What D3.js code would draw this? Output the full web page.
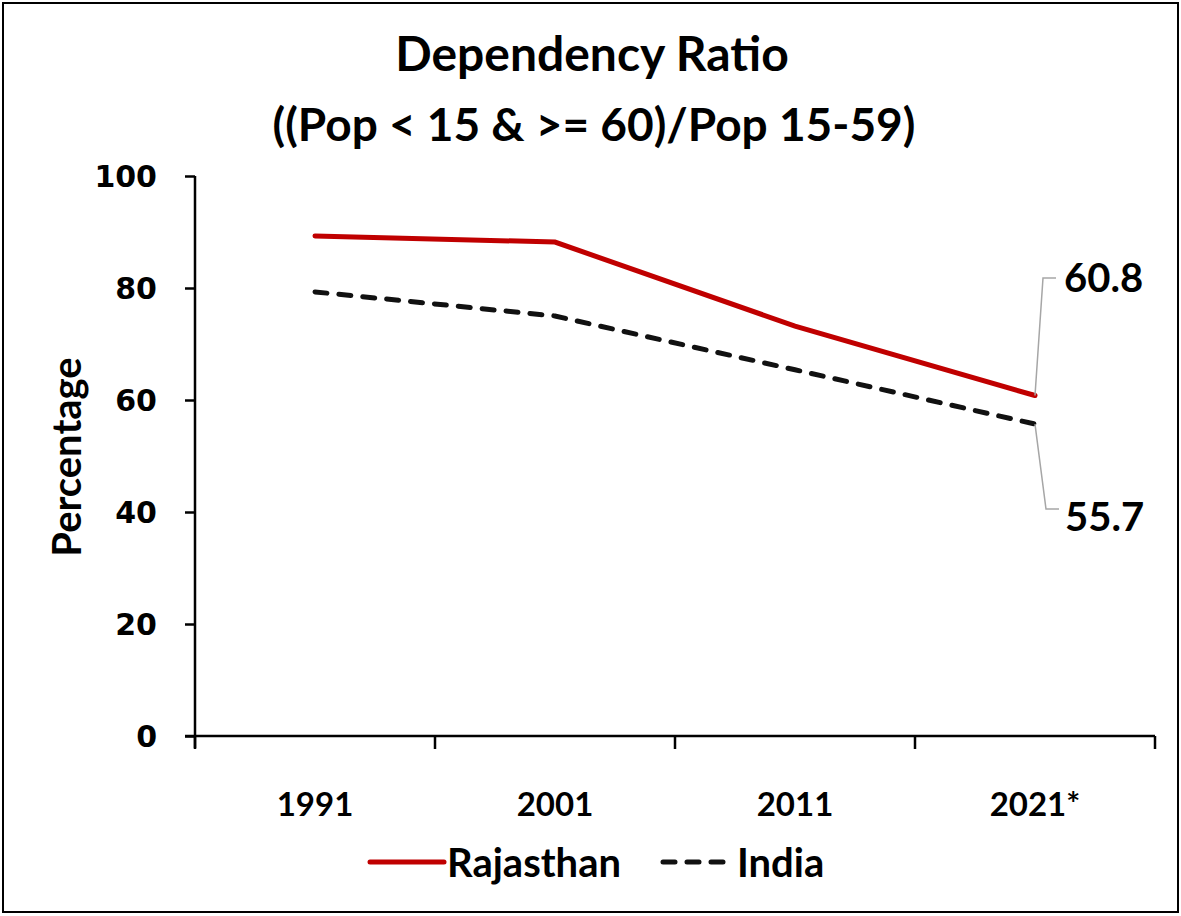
<!DOCTYPE html>
<html>
<head>
<meta charset="utf-8">
<script src="https://cdn.jsdelivr.net/npm/d3@7"></script>
<style>
  body { margin: 0; background: #fff; }
  text { font-family: Lato, "Open Sans", sans-serif; font-weight: bold; fill: #000; }
</style>
</head>
<body>
<div id="chart"></div>
<script>
const years = ["1991", "2001", "2011", "2021*"];
const rajasthan = [89.3, 88.2, 73.2, 60.8];
const india = [79.3, 75.0, 65.4, 55.7];
const yTicks = [0, 20, 40, 60, 80, 100];

const width = 1181,
  height = 916,
  plotLeft = 195,
  plotRight = 1155,
  plotTop = 176,
  plotBottom = 736;

const svg = d3
  .select("#chart")
  .append("svg")
  .attr("width", width)
  .attr("height", height);

// outer border
svg
  .append("rect")
  .attr("x", 3)
  .attr("y", 3)
  .attr("width", width - 6)
  .attr("height", height - 7)
  .attr("fill", "none")
  .attr("stroke", "#000")
  .attr("stroke-width", 2);

svg
  .append("text")
  .attr("x", 592)
  .attr("y", 71)
  .attr("text-anchor", "middle")
  .style("font-size", "48px")
  .text("Dependency Ratio");

svg
  .append("text")
  .attr("x", 594)
  .attr("y", 141)
  .attr("text-anchor", "middle")
  .style("font-size", "46px")
  .text("((Pop < 15 & >= 60)/Pop 15-59)");

const x = d3.scaleBand().domain(years).range([plotLeft, plotRight]).padding(0);
const y = d3.scaleLinear().domain([0, 100]).range([plotBottom, plotTop]);

const yAxis = d3
  .axisLeft(y)
  .tickValues(yTicks)
  .tickSize(10)
  .tickPadding(28);

const gy = svg
  .append("g")
  .attr("transform", "translate(" + plotLeft + ",0)")
  .call(yAxis);
gy.select(".domain").attr("stroke-width", 2.5).attr("d", "M0," + plotTop + "V" + (plotBottom + 12));
gy.selectAll(".tick line").attr("stroke-width", 2.5);
gy.selectAll(".tick text")
  .style("font-size", "30px")
  .style("font-family", "'DejaVu Sans', sans-serif")
  .attr("dy", "0.35em");

const xAxis = d3.axisBottom(x).tickSize(0).tickPadding(57);
const gx = svg
  .append("g")
  .attr("transform", "translate(0," + plotBottom + ")")
  .call(xAxis);
gx.select(".domain").attr("stroke-width", 2.5).attr("d", "M" + (plotLeft - 10) + ",0H" + plotRight);
gx.selectAll(".tick text").style("font-size", "33px");

// tick marks between categories
const edges = years.map((d) => x(d)).concat([x(years[years.length - 1]) + x.bandwidth()]);
gx.selectAll(".edge")
  .data(edges)
  .enter()
  .append("line")
  .attr("class", "edge")
  .attr("x1", (d) => d)
  .attr("x2", (d) => d)
  .attr("y1", 0)
  .attr("y2", 13)
  .attr("stroke", "#000")
  .attr("stroke-width", 2.5);

svg
  .append("text")
  .attr("transform", "translate(81,457) rotate(-90)")
  .attr("text-anchor", "middle")
  .style("font-size", "40px")
  .text("Percentage");

const line = d3
  .line()
  .x((d, i) => x(years[i]) + x.bandwidth() / 2)
  .y((d) => y(d));

svg
  .append("path")
  .datum(india)
  .attr("d", line)
  .attr("fill", "none")
  .attr("stroke", "#111")
  .attr("stroke-width", 5)
  .attr("stroke-linecap", "round")
  .attr("stroke-dasharray", "12 12");

svg
  .append("path")
  .datum(rajasthan)
  .attr("d", line)
  .attr("fill", "none")
  .attr("stroke", "#c00000")
  .attr("stroke-width", 5)
  .attr("stroke-linecap", "round");

// end labels with leader lines
const lastX = x(years[3]) + x.bandwidth() / 2;
const labels = [
  { v: rajasthan[3], lx: 1043, ly: 278, tx: 1064, ty: 292, text: "60.8" },
  { v: india[3], lx: 1046, ly: 509, tx: 1065, ty: 531, text: "55.7" }
];
labels.forEach((l) => {
  svg
    .append("path")
    .attr("d", "M" + lastX + "," + y(l.v) + "L" + l.lx + "," + l.ly + "H" + (l.lx + 13))
    .attr("fill", "none")
    .attr("stroke", "#a6a6a6")
    .attr("stroke-width", 1.5);
  svg
    .append("text")
    .attr("x", l.tx)
    .attr("y", l.ty)
    .style("font-size", "40px")
    .text(l.text);
});

// legend
const legend = svg.append("g");
legend
  .append("line")
  .attr("x1", 370)
  .attr("x2", 444)
  .attr("y1", 862)
  .attr("y2", 862)
  .attr("stroke", "#c00000")
  .attr("stroke-width", 5)
  .attr("stroke-linecap", "round");
legend
  .append("text")
  .attr("x", 447)
  .attr("y", 877)
  .style("font-size", "40px")
  .text("Rajasthan");
legend
  .append("line")
  .attr("x1", 663)
  .attr("x2", 723)
  .attr("y1", 862)
  .attr("y2", 862)
  .attr("stroke", "#111")
  .attr("stroke-width", 5)
  .attr("stroke-linecap", "round")
  .attr("stroke-dasharray", "12 12");
legend
  .append("text")
  .attr("x", 737)
  .attr("y", 877)
  .style("font-size", "40px")
  .text("India");
</script>
</body>
</html>
